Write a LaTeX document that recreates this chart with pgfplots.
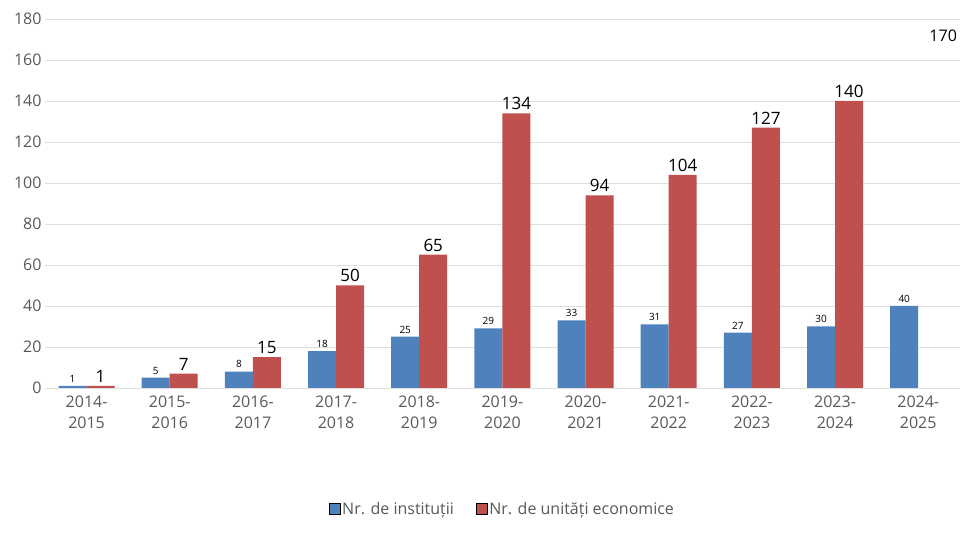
\documentclass[border=0pt]{standalone}
\usepackage{pgfplots}
\pgfplotsset{compat=1.18}
\usepackage{fontspec}
\setmainfont{Open Sans}
\definecolor{cb}{HTML}{4F81BD}
\definecolor{cr}{HTML}{C0504D}
\definecolor{tx}{HTML}{595959}
\begin{document}
\begin{tikzpicture}
\begin{axis}[name=ax, at={(0,0)},
 scale only axis, width=915pt, height=369pt,
 xmin=-0.5, xmax=10.5, ymin=0, ymax=180, ytick={0,20,...,180},
 xtick={0,...,10},
 xticklabels={2014-\\2015,2015-\\2016,2016-\\2017,2017-\\2018,2018-\\2019,2019-\\2020,2020-\\2021,2021-\\2022,2022-\\2023,2023-\\2024,2024-\\2025},
 xticklabel style={align=center, font=\fontsize{16}{21}\selectfont, text=tx},
 yticklabel style={font=\fontsize{16}{19}\selectfont, text=tx},
 /pgf/number format/assume math mode=true,
 axis line style={draw=none}, tick style={draw=none},
 ymajorgrids, grid style={draw=gray!25},
 ybar=0pt, bar width=28pt,
 nodes near coords,
 legend style={at={(0.5,-0.3)}, anchor=north, draw=none, legend columns=2, font=\fontsize{16}{19}\selectfont, text=tx, /tikz/every even column/.append style={column sep=20pt}},
 legend image code/.code={\draw[#1] (0pt,-5pt) rectangle (11pt,6pt);},
]
\addplot[fill=cb, draw=none, nodes near coords style={font=\fontsize{10}{12}\selectfont, text=black}] coordinates {(0,1)(1,5)(2,8)(3,18)(4,25)(5,29)(6,33)(7,31)(8,27)(9,30)(10,40)};
\addplot[fill=cr, draw=none, nodes near coords style={font=\fontsize{17}{19}\selectfont, text=black}] coordinates {(0,1)(1,7)(2,15)(3,50)(4,65)(5,134)(6,94)(7,104)(8,127)(9,140)};
\node[font=\fontsize{16}{19}\selectfont] at (axis cs:10.3,172) {170};
\legend{Nr. de instituții, Nr. de unități economice}
\end{axis}
\useasboundingbox (-45pt,-150pt) rectangle (915pt,388pt);
\end{tikzpicture}
\end{document}
